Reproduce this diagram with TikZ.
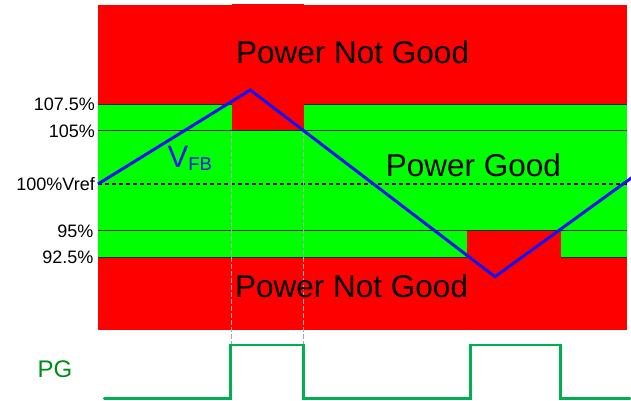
\documentclass[tikz,border=0pt]{standalone}
\usepackage{fontspec}
\setmainfont{Liberation Sans}
\definecolor{rd}{RGB}{255,0,0}
\definecolor{gn}{RGB}{0,255,0}
\definecolor{vfb}{RGB}{20,20,240}
\definecolor{pgwave}{RGB}{0,176,80}
\definecolor{pgtext}{RGB}{0,140,20}
\definecolor{guidegray}{RGB}{170,170,170}
\tikzset{
  lvlline/.style={draw=black!85, line width=0.9pt},
  lvllabel/.style={anchor=base east, inner sep=0pt, font=\fontsize{18}{18}\selectfont},
  bigtext/.style={anchor=base west, inner sep=0pt, font=\fontsize{31.5}{32}\selectfont},
  guide/.style={draw=guidegray, line width=1.3pt, dash pattern=on 5pt off 2pt},
  vfbline/.style={draw=vfb, line width=3pt, line join=miter},
  pgline/.style={draw=pgwave, line width=2.8pt, line cap=round, line join=miter}
}
\begin{document}
\begin{tikzpicture}[x=1pt,y=-1pt]
\useasboundingbox (0,0) rectangle (631,400);
% regions
\fill[rd] (98,5) rectangle (627,330);
\fill[rd] (231.5,4) rectangle (303.5,131);
\fill[gn] (98,104.3) rectangle (627,257.3);
\fill[rd] (231.5,104.3) rectangle (303.5,130.7);
\fill[rd] (467.3,230.7) rectangle (561,257.3);
% level lines
\draw[lvlline] (98,104.3) -- (231.5,104.3);
\draw[lvlline] (303.5,104.3) -- (627,104.3);
\draw[lvlline] (98,130.7) -- (627,130.7);
\draw[lvlline] (98,230.7) -- (627,230.7);
\draw[lvlline] (98,257.3) -- (467.3,257.3);
\draw[lvlline] (561,257.3) -- (627,257.3);
\draw[black, line width=1.3pt, dash pattern=on 4pt off 3pt] (98,184) -- (627,184);
% guide lines
\draw[guide] (231.5,131) -- (231.5,344);
\draw[guide] (303.5,131) -- (303.5,344);
% labels
\node[lvllabel] (l1) at (95,110.5) {107.5\%};
\node[lvllabel] (l2) at (95,137) {105\%};
\node[lvllabel] (l3) at (95,190.3) {100\%Vref};
\node[lvllabel] (l4) at (93.5,237) {95\%};
\node[lvllabel] (l5) at (93.5,263.3) {92.5\%};
\node[bigtext] (png1) at (236,63.3) {Power Not Good};
\node[bigtext] (pg) at (385.7,176.7) {Power Good};
\node[bigtext] (png2) at (235,297.7) {Power Not Good};
% VFB
\coordinate (v0) at (98,184);
\coordinate (v1) at (250.3,90);
\coordinate (v2) at (495,276.7);
\coordinate (v3) at (632,177.5);
\draw[vfbline] (v0) -- (v1) -- (v2) -- (v3);
\node[anchor=base west, inner sep=0pt, text=vfb] (vfblabel) at (167.5,167.3)
  {\fontsize{31}{31}\selectfont V\raisebox{-3.4pt}{\fontsize{18.5}{18.5}\selectfont FB}};
% PG
\node[anchor=base west, inner sep=0pt, text=pgtext, font=\fontsize{24}{24}\selectfont] (pglabel) at (37.3,377.3) {PG};
\draw[pgline] (104.3,398.3) -- (230.7,398.3) -- (230.7,345) -- (303.3,345) -- (303.3,398.3)
  -- (470.7,398.3) -- (470.7,345) -- (560.7,345) -- (560.7,398.3) -- (630,398.3);
\end{tikzpicture}
\end{document}
